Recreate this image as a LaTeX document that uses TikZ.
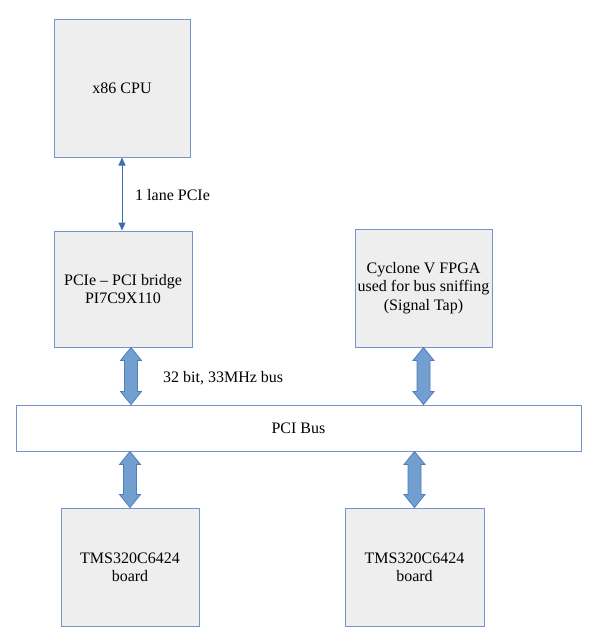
\documentclass[tikz,border=0pt]{standalone}
\usepackage{fontspec}
\setmainfont{Liberation Serif}
\usetikzlibrary{arrows.meta,calc}
\definecolor{boxline}{HTML}{7295CB}
\definecolor{boxfill}{HTML}{EEEEEE}
\definecolor{arrfill}{HTML}{729FCF}
\definecolor{arrline}{HTML}{4F7DBA}
\definecolor{thinarr}{HTML}{3F6EAE}
\tikzset{
  blk/.style={draw=boxline, line width=1pt, fill=boxfill, align=center, inner sep=0pt,
    font=\fontsize{16}{18.5}\selectfont},
  busbox/.style={draw=boxline, line width=1pt, fill=white, align=center, inner sep=0pt,
    font=\fontsize{16}{18.5}\selectfont},
  lbl/.style={anchor=west, inner sep=0pt, font=\fontsize{16}{18.5}\selectfont},
  fatarrow/.style={draw=arrline, line width=0.8pt, fill=arrfill, line join=miter},
  thin/.style={draw=thinarr, line width=1pt, {Triangle[length=8pt,width=7pt]}-{Triangle[length=8pt,width=7pt]}}
}
\newcommand\fatarr[3]{%
  \path[fatarrow] let \p1=(#2), \p2=(#3) in
    (#1pt,\y1) -- (#1pt+10.5pt,\y1-13pt) -- (#1pt+6.5pt,\y1-13pt) -- (#1pt+6.5pt,\y2+13pt)
    -- (#1pt+10.5pt,\y2+13pt) -- (#1pt,\y2) -- (#1pt-10.5pt,\y2+13pt) -- (#1pt-6.5pt,\y2+13pt)
    -- (#1pt-6.5pt,\y1-13pt) -- (#1pt-10.5pt,\y1-13pt) -- cycle;}
\begin{document}
\begin{tikzpicture}[x=1pt,y=-1pt]
\useasboundingbox[fill=white] (0,0) rectangle (600,638);
\node[blk, minimum width=136pt, minimum height=138pt] (cpu) at (122,88) {x86 CPU};
\node[blk, minimum width=138pt, minimum height=116pt] (bridge) at (123,289) {PCIe -- PCI bridge\\PI7C9X110};
\node[blk, minimum width=137pt, minimum height=118pt] (fpga) at (423.5,288) {Cyclone V FPGA\\used for bus sniffing\\(Signal Tap)};
\node[busbox, minimum width=565pt, minimum height=46pt] (pci) at (298.5,428) {PCI Bus};
\node[blk, minimum width=138pt, minimum height=118pt] (board1) at (130,567) {TMS320C6424\\board};
\node[blk, minimum width=139pt, minimum height=118pt] (board2) at (414.5,567) {TMS320C6424\\board};
\draw[thin] (cpu.south) -- (cpu.south |- bridge.north);
\node[lbl] (l1) at (135,195) {1 lane PCIe};
\node[lbl] (l2) at (163,378) {32 bit, 33MHz bus};
\fatarr{131}{bridge.south}{pci.north}
\fatarr{423.5}{fpga.south}{pci.north}
\fatarr{130}{pci.south}{board1.north}
\fatarr{414.5}{pci.south}{board2.north}
\end{tikzpicture}
\end{document}
